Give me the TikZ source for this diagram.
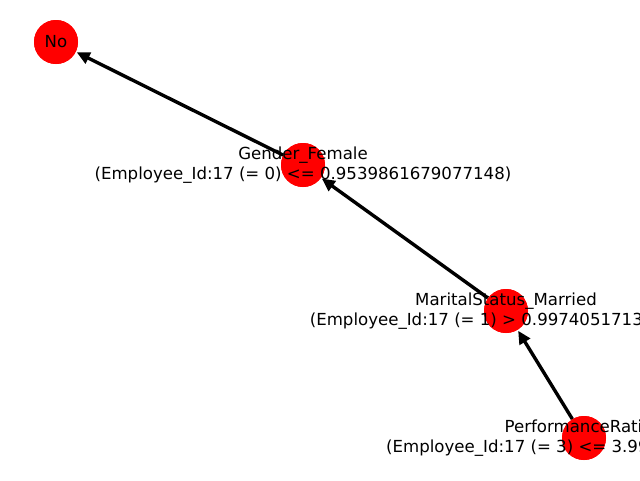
\documentclass[tikz,border=0pt]{standalone}
\usepackage{fontspec}
\setmainfont{DejaVu Sans}
\usetikzlibrary{arrows.meta}
\begin{document}
\begin{tikzpicture}[x=1pt,y=-1pt,
  vert/.style={circle,fill=red,draw=none,minimum size=44pt,inner sep=0pt},
  lab/.style={align=center,inner sep=0pt,font=\fontsize{16.6}{19.5}\selectfont},
  edge/.style={line width=3.4pt,-{Triangle[length=13pt,width=12pt]},shorten >=1pt}]
\useasboundingbox (0,0) rectangle (640,480);
\clip (0,0) rectangle (640,480);
\fill[white] (0,0) rectangle (640,480);
\node[vert] (no) at (56,42) {};
\node[vert] (g) at (303,165) {};
\node[vert] (m) at (506,311) {};
\node[vert] (p) at (584,438) {};
\draw[edge] (g) -- (no);
\draw[edge] (m) -- (g);
\draw[edge] (p) -- (m);
\node[vert] at (56,42) {};
\node[vert] at (303,165) {};
\node[vert] at (506,311) {};
\node[vert] at (584,438) {};
\node[lab] (tno) at (56,42) {No};
\node[lab] (tg) at (303,165) {Gender\_Female\\(Employee\_Id:17 (= 0) <= 0.9539861679077148)};
\node[lab] (tm) at (506,311) {MaritalStatus\_Married\\(Employee\_Id:17 (= 1) > 0.997405171394348)};
\node[lab] (tp) at (584,438) {PerformanceRating\\(Employee\_Id:17 (= 3) <= 3.99999976158142)};
\end{tikzpicture}
\end{document}
